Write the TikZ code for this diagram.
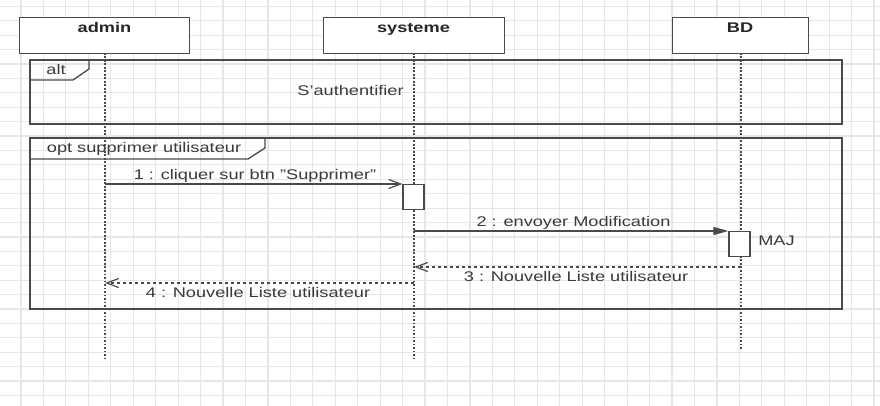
\documentclass[tikz,border=0pt]{standalone}
\usepackage{fontspec}
\setmainfont[FakeStretch=1.3]{Liberation Sans}
\usetikzlibrary{arrows.meta}
\definecolor{gridc}{HTML}{E6E6E6}
\definecolor{linec}{HTML}{4A4A4A}
\definecolor{txt}{HTML}{3A3A3A}
\begin{document}
\begin{tikzpicture}[x=1pt,y=-1pt,
  every node/.style={font=\fontsize{14}{16}\selectfont, text=txt, inner sep=0pt},
  lbl/.style={anchor=base},
  gridline/.style={draw=gridc, line width=1.2pt},
  frame/.style={draw=linec, line width=1.3pt},
  lifebox/.style={draw=linec, fill=white, line width=1.4pt, anchor=north west},
  title/.style={anchor=base, font=\fontsize{14}{16}\selectfont\bfseries, text=black!85},
  lifeline/.style={draw=linec, line width=1.6pt, dash pattern=on 1.6pt off 1.9pt},
  act/.style={draw=linec, fill=white, line width=1.3pt, minimum width=21pt, minimum height=25pt, anchor=north},
  msg/.style={draw=linec, line width=1.2pt},
  ret/.style={msg, dash pattern=on 3pt off 3pt},
  openarrow/.style={-{Straight Barb[length=12pt,width=9pt,line width=1.2pt]}},
  fillarrow/.style={-{Triangle[length=15pt,width=8pt]}}
]
\useasboundingbox (0,0) rectangle (880,406);
\fill[white] (0,0) rectangle (880,406);
% grid
\foreach \i in {0,...,40} {\draw[gridline] ({-1.5+22.45*\i},0) -- ++(0,406);}
\foreach \j in {0,...,28} {\draw[gridline] (0,{6.5+14.4*\j}) -- ++(880,0);}

% frames
\draw[frame] (30,60) rectangle (842,124);
\draw[frame] (30,60) -- (89,60) -- (89,69) -- (73,80) -- (30,80);
\node[lbl] (altlab) at (56,75) {alt};
\node[lbl] (auth) at (350.5,96) {S'authentifier};

\draw[frame] (30,138) rectangle (842,309);
\draw[frame] (30,138) -- (265,138) -- (265,148) -- (248,159) -- (30,159);
\node[lbl] (optlab) at (144,152.7) {opt supprimer utilisateur};

% lifeline heads
\node[lifebox, minimum width=170pt, minimum height=36pt] (admin) at (19,17) {};
\node[lifebox, minimum width=181pt, minimum height=36pt] (systeme) at (323,17) {};
\node[lifebox, minimum width=136pt, minimum height=36pt] (bd) at (672,17) {};
\node[title] (admint) at (104.5,33) {admin};
\node[title] (systemet) at (413.5,33) {systeme};
\node[title] (bdt) at (740,33) {BD};

% lifelines
\coordinate (adminend) at (105,360);
\coordinate (systemeend) at (414,360);
\coordinate (bdend) at (741,350);
\draw[lifeline] (105,53) -- (adminend);
\draw[lifeline] (414,53) -- (systemeend);
\draw[lifeline] (741,53) -- (bdend);

% activations
\node[act] (act1) at (413.5,184) {};
\node[act] (act2) at (739.5,231) {};
\node[lbl] (maj) at (776.5,245.5) {MAJ};

% messages
\coordinate (m1s) at (105,184);
\draw[msg, openarrow] (m1s) -- (act1.north west);
\node[lbl] (l1) at (255,180) {1 : cliquer sur btn "Supprimer"};

\coordinate (m2s) at (414,231);
\draw[msg, fillarrow] (m2s) -- (act2.north west);
\node[lbl] (l2) at (573.5,226.5) {2 : envoyer Modification};

\coordinate (m3s) at (741,267);
\coordinate (m3e) at (414,267);
\draw[ret, openarrow] (m3s) -- (m3e);
\node[lbl] (l3) at (576,281.5) {3 : Nouvelle Liste utilisateur};

\coordinate (m4s) at (414,283);
\coordinate (m4e) at (105,283);
\draw[ret, openarrow] (m4s) -- (m4e);
\node[lbl] (l4) at (258,297.5) {4 : Nouvelle Liste utilisateur};
\end{tikzpicture}
\end{document}
